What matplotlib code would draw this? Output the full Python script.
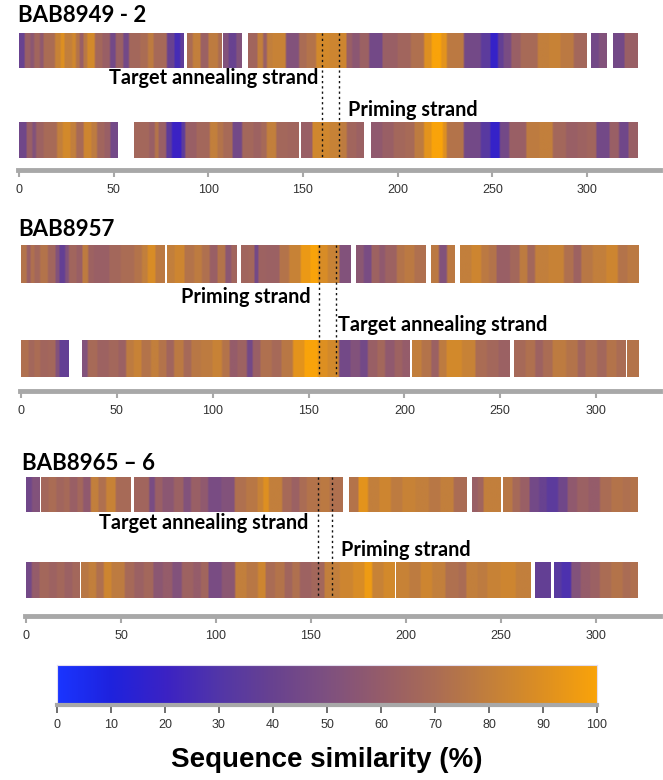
import numpy as np
import matplotlib
matplotlib.use("Agg")
import matplotlib.pyplot as plt
from matplotlib.colors import LinearSegmentedColormap

# ---------------------------------------------------------------- data
# Per-position sequence similarity (%), given as (start, end, value) runs.
bab8949_top_runs = [
    (0, 3, 40), (3, 6, 62), (6, 8, 56), (8, 11, 66), (11, 13, 58), (13, 19, 70),
    (19, 22, 82), (22, 24, 90), (24, 28, 80), (28, 30, 85), (30, 32, 74), (32, 34, 62),
    (34, 36, 76), (36, 40, 86), (40, 44, 67), (44, 48, 62), (48, 51, 45), (51, 55, 63),
    (55, 58, 45), (58, 64, 67), (64, 68, 70), (68, 71, 78), (71, 78, 68), (78, 82, 40),
    (82, 85, 25), (85, 87, 36),
    (89, 92, 70), (92, 96, 80), (96, 100, 63), (100, 105, 78), (105, 107, 70),
    (108, 111, 52), (111, 115, 40), (115, 118, 52),
    (121, 126, 66), (126, 129, 80), (129, 131, 62), (131, 134, 80), (134, 141, 82),
    (141, 148, 52), (148, 152, 70), (152, 157, 74), (157, 164, 86), (164, 173, 84),
    (173, 176, 62), (176, 180, 56), (180, 185, 63), (185, 192, 45), (192, 200, 62),
    (200, 207, 66), (207, 214, 72), (214, 218, 90), (218, 223, 100), (223, 226, 92),
    (226, 235, 77), (235, 244, 45), (244, 249, 35), (249, 253, 18), (253, 256, 38),
    (256, 260, 48), (260, 265, 62), (265, 274, 69), (274, 280, 80), (280, 286, 82),
    (286, 293, 77), (293, 300, 67),
    (302, 306, 45), (306, 310, 52),
    (314, 320, 45), (320, 327, 62),
]
bab8949_top_blocks = [(0, 87), (89, 107), (108, 118), (121, 300), (302, 310), (314, 327)]

bab8949_bottom_runs = [
    (0, 4, 44), (4, 7, 62), (7, 9, 52), (9, 13, 64), (13, 20, 69), (20, 23, 80),
    (23, 27, 86), (27, 30, 80), (30, 34, 69), (34, 38, 84), (38, 41, 78), (41, 45, 66),
    (45, 48, 62), (48, 52, 45),
    (61, 69, 67), (69, 72, 62), (72, 74, 74), (74, 78, 62), (78, 81, 35), (81, 86, 20),
    (86, 88, 35), (88, 94, 62), (94, 101, 67), (101, 105, 80), (105, 108, 74),
    (108, 113, 69), (113, 118, 45), (118, 124, 67), (124, 128, 64), (128, 131, 68),
    (131, 136, 80), (136, 142, 67), (142, 148, 66),
    (149, 155, 62), (155, 164, 85), (164, 170, 82), (170, 173, 78), (173, 178, 66),
    (178, 182, 63),
    (186, 192, 58), (192, 198, 62), (198, 204, 67), (204, 209, 69), (209, 214, 78),
    (214, 218, 92), (218, 224, 100), (224, 226, 90), (226, 235, 74), (235, 244, 45),
    (244, 249, 33), (249, 254, 18), (254, 259, 45), (259, 268, 62), (268, 275, 78),
    (275, 282, 80), (282, 289, 67), (289, 295, 62), (295, 300, 64), (300, 305, 66),
    (305, 312, 45), (312, 317, 62), (317, 322, 44), (322, 327, 62),
]
bab8949_bottom_blocks = [(0, 52), (61, 148), (149, 182), (186, 327)]

bab8957_top_runs = [
    (0, 3, 74), (3, 5, 62), (5, 7, 72), (7, 10, 67), (10, 14, 74), (14, 18, 66),
    (18, 20, 52), (20, 23, 38), (23, 25, 52), (25, 29, 66), (29, 32, 62), (32, 35, 78),
    (35, 38, 64), (38, 46, 62), (46, 52, 67), (52, 59, 70), (59, 63, 74), (63, 66, 80),
    (66, 70, 88), (70, 75, 77),
    (76, 80, 80), (80, 85, 84), (85, 90, 74), (90, 94, 78), (94, 98, 72), (98, 102, 62),
    (102, 106, 74), (106, 109, 56), (109, 112, 66),
    (115, 119, 66), (119, 122, 67), (122, 124, 45), (124, 128, 64), (128, 135, 63),
    (135, 140, 74), (140, 146, 82), (146, 151, 95), (151, 155, 100), (155, 160, 88),
    (160, 166, 82), (166, 172, 52),
    (175, 179, 56), (179, 183, 48), (183, 187, 64), (187, 190, 58), (190, 196, 64),
    (196, 200, 74), (200, 205, 77), (205, 211, 72),
    (214, 218, 77), (218, 222, 52), (222, 226, 77),
    (229, 235, 80), (235, 240, 84), (240, 244, 77), (244, 248, 74), (248, 255, 62),
    (255, 260, 67), (260, 264, 78), (264, 268, 67), (268, 275, 80), (275, 283, 82),
    (283, 288, 72), (288, 292, 64), (292, 298, 76), (298, 305, 80), (305, 311, 84),
    (311, 316, 74), (316, 322, 77),
]
bab8957_top_blocks = [(0, 75), (76, 112), (115, 172), (175, 211), (214, 226), (229, 322)]

bab8957_bottom_runs = [
    (0, 4, 72), (4, 7, 67), (7, 10, 70), (10, 14, 66), (14, 18, 67), (18, 20, 52),
    (20, 25, 38),
    (32, 35, 52), (35, 40, 69), (40, 46, 64), (46, 51, 67), (51, 55, 63), (55, 59, 78),
    (59, 63, 82), (63, 68, 74), (68, 72, 80), (72, 76, 74), (76, 80, 66), (80, 85, 77),
    (85, 89, 68), (89, 94, 76), (94, 100, 78), (100, 105, 82), (105, 109, 74),
    (109, 113, 60), (113, 118, 64), (118, 121, 45), (121, 125, 62), (125, 131, 72),
    (131, 136, 68), (136, 142, 76), (142, 148, 92), (148, 155, 100), (155, 160, 90),
    (160, 166, 86), (166, 172, 45), (172, 177, 52), (177, 181, 45), (181, 186, 62),
    (186, 190, 67), (190, 195, 58), (195, 199, 64), (199, 203, 60),
    (204, 209, 80), (209, 214, 74), (214, 218, 63), (218, 222, 78), (222, 230, 86),
    (230, 237, 82), (237, 243, 70), (243, 249, 67), (249, 255, 63),
    (257, 263, 68), (263, 268, 72), (268, 272, 64), (272, 277, 70), (277, 284, 78),
    (284, 290, 74), (290, 294, 66), (294, 300, 72), (300, 305, 67), (305, 310, 74),
    (310, 315, 70),
    (316, 322, 74),
]
bab8957_bottom_blocks = [(0, 25), (32, 203), (204, 255), (257, 315), (316, 322)]

bab8965_top_runs = [
    (0, 3, 44), (3, 7, 52), (7, 12, 67), (12, 16, 70), (16, 20, 66), (20, 23, 68),
    (23, 27, 62), (27, 30, 67), (30, 34, 58), (34, 38, 80), (38, 42, 72), (42, 47, 82),
    (47, 55, 69),
    (57, 65, 66), (65, 68, 48), (68, 72, 62), (72, 78, 56), (78, 83, 63), (83, 87, 52),
    (87, 92, 62), (92, 96, 58), (96, 103, 48), (103, 110, 52), (110, 116, 72),
    (116, 122, 76), (122, 125, 82), (125, 128, 90), (128, 135, 80), (135, 140, 68),
    (140, 144, 63), (144, 148, 70), (148, 155, 74), (155, 160, 77), (160, 167, 72),
    (170, 175, 74), (175, 180, 92), (180, 186, 80), (186, 192, 84), (192, 198, 78),
    (198, 205, 82), (205, 212, 80), (212, 218, 76), (218, 225, 80), (225, 232, 70),
    (235, 238, 62), (238, 241, 66), (241, 250, 80),
    (251, 256, 76), (256, 260, 68), (260, 265, 62), (265, 270, 45), (270, 274, 40),
    (274, 280, 35), (280, 285, 44), (285, 290, 58), (290, 296, 63), (296, 302, 60),
    (302, 308, 70), (308, 314, 74), (314, 318, 72), (318, 322, 74),
]
bab8965_top_blocks = [(0, 7), (8, 55), (57, 167), (170, 232), (235, 250), (251, 322)]

bab8965_bottom_runs = [
    (0, 3, 45), (3, 7, 60), (7, 12, 67), (12, 16, 64), (16, 20, 67), (20, 24, 63),
    (24, 28, 67),
    (29, 33, 76), (33, 37, 80), (37, 41, 72), (41, 45, 84), (45, 52, 78), (52, 57, 68),
    (57, 62, 63), (62, 67, 67), (67, 72, 56), (72, 77, 60), (77, 82, 52), (82, 88, 64),
    (88, 92, 60), (92, 96, 66), (96, 103, 48), (103, 110, 56), (110, 116, 80),
    (116, 122, 76), (122, 126, 84), (126, 131, 70), (131, 136, 74), (136, 140, 66),
    (140, 144, 72), (144, 150, 64), (150, 157, 67), (157, 165, 80), (165, 172, 84),
    (172, 178, 88), (178, 182, 96), (182, 188, 82), (188, 194, 86),
    (195, 202, 82), (202, 208, 78), (208, 214, 84), (214, 221, 80), (221, 228, 72),
    (228, 232, 70), (232, 238, 80), (238, 243, 78), (243, 250, 82), (250, 258, 84),
    (258, 266, 80),
    (268, 276, 38),
    (278, 282, 33), (282, 287, 28), (287, 292, 52), (292, 297, 60), (297, 302, 63),
    (302, 308, 70), (308, 314, 74), (314, 318, 70), (318, 322, 72),
]
bab8965_bottom_blocks = [(0, 28), (29, 194), (195, 266), (268, 276), (278, 322)]

panel_titles = ["BAB8949 - 2", "BAB8957", "BAB8965 \u2013 6"]
primer_bounds = [(160, 169), (155.3, 164.5), (153.7, 161.0)]
upper_labels = ["Target annealing strand", "Priming strand", "Target annealing strand"]
lower_labels = ["Priming strand", "Target annealing strand", "Priming strand"]
position_ticks = [0, 50, 100, 150, 200, 250, 300]
similarity_ticks = [0, 10, 20, 30, 40, 50, 60, 70, 80, 90, 100]
colorbar_title = "Sequence similarity (%)"

# ---------------------------------------------------------------- style
W, H = 663, 780
cmap = LinearSegmentedColormap.from_list(
    "similarity",
    [(0.0, "#1a35ff"), (0.1, "#1f22dd"), (0.2, "#3b22c4"), (0.3, "#5236a8"),
     (0.4, "#684290"), (0.5, "#7e5080"), (0.6, "#955c6a"), (0.7, "#aa6c55"),
     (0.8, "#c27f3c"), (0.9, "#dd8f22"), (1.0, "#f9a30a")])

LABEL_FONT = dict(family=["Lato", "DejaVu Sans"], fontweight="bold")
TICK_FONT = dict(family=["Liberation Sans", "DejaVu Sans"], size=9, color="#333333")
AXIS_GREY = "#a8a8a8"

fig = plt.figure(figsize=(W / 100, H / 100), dpi=100)


def px_axes(left, top, width, height):
    return fig.add_axes([left / W, 1 - (top + height) / H, width / W, height / H])


def fill(runs, n=340):
    v = np.full(n, np.nan)
    for a, b, val in runs:
        v[a:b] = val
    return v


def draw_strip(ax, runs, blocks, y_top, y_bot):
    vals = fill(runs)
    for a, b in blocks:
        ax.imshow(vals[a:b][None, :], cmap=cmap, vmin=0, vmax=100, aspect="auto",
                  interpolation="bilinear", extent=(a, b, y_bot, y_top))


# Layout of each panel in pixel units: zero tick x, px per position,
# strip rows, axis line, title position, label anchors.
layout = [
    dict(zero=19, ppu=1.893, top=(33, 68), bot=(122, 158), axis=170, title=(18, 16),
         up_lab=(158, 78, "right"), lo_lab=(174, 110, "left")),
    dict(zero=21, ppu=1.917, top=(245, 283), bot=(340, 377), axis=391, title=(18, 229),
         up_lab=(151, 297, "right"), lo_lab=(165.5, 325, "left")),
    dict(zero=26, ppu=1.900, top=(477, 512), bot=(562, 598), axis=616, title=(22, 463),
         up_lab=(148.5, 523, "right"), lo_lab=(166, 550, "left")),
]
strips = [
    (bab8949_top_runs, bab8949_top_blocks, bab8949_bottom_runs, bab8949_bottom_blocks),
    (bab8957_top_runs, bab8957_top_blocks, bab8957_bottom_runs, bab8957_bottom_blocks),
    (bab8965_top_runs, bab8965_top_blocks, bab8965_bottom_runs, bab8965_bottom_blocks),
]

for i, L in enumerate(layout):
    x_lo, x_hi = -0.6, (660 - L["zero"]) / L["ppu"]
    y0, y1 = L["top"][0], L["axis"]
    left = L["zero"] + x_lo * L["ppu"]
    ax = px_axes(left, y0, (x_hi - x_lo) * L["ppu"], y1 - y0)
    ax.set_xlim(x_lo, x_hi)
    ax.set_ylim(y1, y0)
    ax.patch.set_alpha(0)

    t_runs, t_blocks, b_runs, b_blocks = strips[i]
    draw_strip(ax, t_runs, t_blocks, *L["top"])
    draw_strip(ax, b_runs, b_blocks, *L["bot"])

    for xb in primer_bounds[i]:
        ax.vlines(xb, L["top"][0], L["bot"][1], colors="#111111", lw=1.0,
                  linestyles=(0, (1.6, 2.2)), zorder=5)

    ux, uy, uha = L["up_lab"]
    lx, ly, lha = L["lo_lab"]
    ax.text(ux, uy, upper_labels[i], ha=uha, va="center", fontsize=14.3, **LABEL_FONT)
    ax.text(lx, ly, lower_labels[i], ha=lha, va="center", fontsize=14.3, **LABEL_FONT)

    for s in ("top", "left", "right"):
        ax.spines[s].set_visible(False)
    ax.spines["bottom"].set_color(AXIS_GREY)
    ax.spines["bottom"].set_linewidth(3.5)
    ax.set_yticks([])
    ax.set_xticks(position_ticks)
    ax.tick_params(axis="x", length=5, width=1.5, color=AXIS_GREY, pad=5,
                   labelsize=TICK_FONT["size"], labelcolor=TICK_FONT["color"])
    for lab in ax.get_xticklabels():
        lab.set_family(TICK_FONT["family"])

    tx, ty = L["title"]
    fig.text(tx / W, 1 - ty / H, panel_titles[i], ha="left", va="center",
             fontsize=16, **LABEL_FONT)

# ---------------------------------------------------------------- colour key
cax = px_axes(57, 665, 540, 40)
gradient = np.linspace(0, 100, 512)[None, :]
cax.imshow(gradient, cmap=cmap, vmin=0, vmax=100, aspect="auto", extent=(0, 100, 0, 1))
cax.set_xlim(0, 100)
cax.set_ylim(0, 1)
for s in ("top", "left", "right"):
    cax.spines[s].set_color("#e4def0")
    cax.spines[s].set_linewidth(0.8)
cax.spines["bottom"].set_color(AXIS_GREY)
cax.spines["bottom"].set_linewidth(3)
cax.set_yticks([])
cax.set_xticks(similarity_ticks)
cax.tick_params(axis="x", length=6, width=1.2, color="#555555", pad=4,
                labelsize=TICK_FONT["size"], labelcolor=TICK_FONT["color"])
for lab in cax.get_xticklabels():
    lab.set_family(TICK_FONT["family"])

fig.text(327 / W, 1 - 760 / H, colorbar_title, ha="center", va="center",
         fontsize=20, fontweight="bold", family=["Liberation Sans", "DejaVu Sans"])

fig.savefig("out.png", dpi=100)
